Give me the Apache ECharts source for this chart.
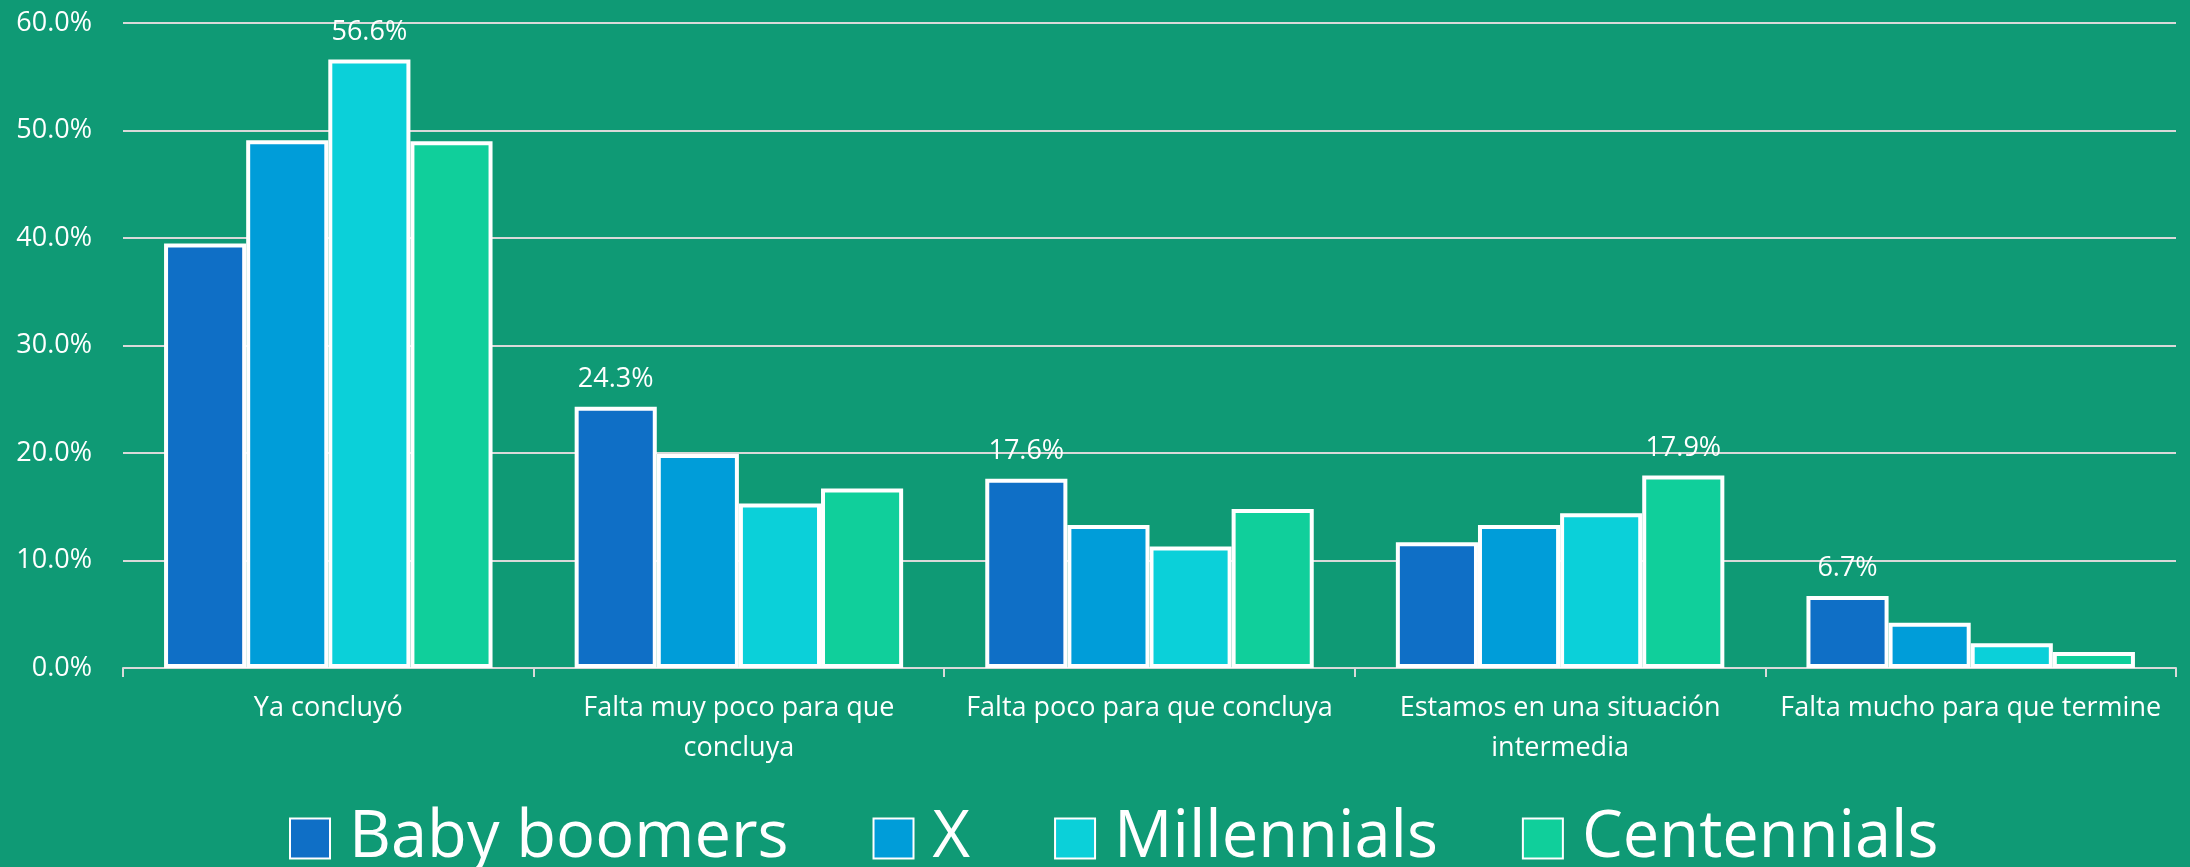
<!DOCTYPE html>
<html>
<head>
<meta charset="utf-8">
<script src="https://cdn.jsdelivr.net/npm/echarts@6/dist/echarts.min.js"></script>
<style>
html,body{margin:0;padding:0;background:#0F9A75;}
#chart{width:2190px;height:867px;}
</style>
</head>
<body>
<div id="chart"></div>
<script>
const categories = [
  "Ya concluyó",
  "Falta muy poco para que\nconcluya",
  "Falta poco para que concluya",
  "Estamos en una situación\nintermedia",
  "Falta mucho para que termine"
];
const seriesNames = ["Baby boomers", "X", "Millennials", "Centennials"];
const babyBoomers = [39.5, 24.3, 17.6, 11.7, 6.7];
const genX = [49.1, 19.9, 13.3, 13.3, 4.2];
const millennials = [56.6, 15.3, 11.3, 14.4, 2.3];
const centennials = [49.0, 16.7, 14.8, 17.9, 1.5];
const yTicks = [0, 10, 20, 30, 40, 50, 60];

const colors = ["#0F6FC6", "#009DD9", "#0BD0D9", "#10CF9B"];
const allValues = [babyBoomers, genX, millennials, centennials];
const font = "'Open Sans', 'Noto Sans', sans-serif";

const maxPerCat = categories.map((c, i) => Math.max(...allValues.map(s => s[i])));

const series = allValues.map((vals, si) => ({
  name: seriesNames[si],
  type: 'bar',
  barGap: '0%',
  barCategoryGap: '20%',
  itemStyle: { color: colors[si], borderColor: '#FFFFFF', borderWidth: 4 },
  data: vals.map((v, ci) => ({
    value: v,
    label: {
      show: v === maxPerCat[ci],
      position: 'top',
      distance: 14,
      color: '#FFFFFF',
      fontFamily: font,
      fontSize: 27,
      formatter: p => p.value.toFixed(1) + '%'
    }
  }))
}));

const chart = echarts.init(document.getElementById('chart'), null, { renderer: 'canvas' });
chart.setOption({
  backgroundColor: '#0F9A75',
  animation: false,
  grid: { left: 123, right: 14, top: 23, bottom: 199, containLabel: false },
  legend: {
    data: seriesNames,
    top: 801,
    left: 284,
    icon: 'rect',
    itemWidth: 40,
    itemHeight: 40,
    itemGap: 84,
    textStyle: { color: '#FFFFFF', fontFamily: font, fontSize: 65, padding: [0, 0, 0, 14] }
  },
  xAxis: {
    type: 'category',
    data: categories,
    axisLine: { lineStyle: { color: '#D9D9D9', width: 2 } },
    axisTick: { show: true, length: 9, lineStyle: { color: '#D9D9D9', width: 2 } },
    axisLabel: { interval: 0, color: '#FFFFFF', fontFamily: font, fontSize: 27, lineHeight: 40, margin: 20 }
  },
  yAxis: {
    type: 'value',
    min: yTicks[0],
    max: yTicks[yTicks.length - 1],
    interval: yTicks[1] - yTicks[0],
    axisLine: { show: false },
    axisTick: { show: false },
    splitLine: { lineStyle: { color: '#D9D9D9', width: 2 } },
    axisLabel: { color: '#FFFFFF', fontFamily: font, fontSize: 27, margin: 31, formatter: v => v.toFixed(1) + '%' }
  },
  series: series
});
</script>
</body>
</html>
